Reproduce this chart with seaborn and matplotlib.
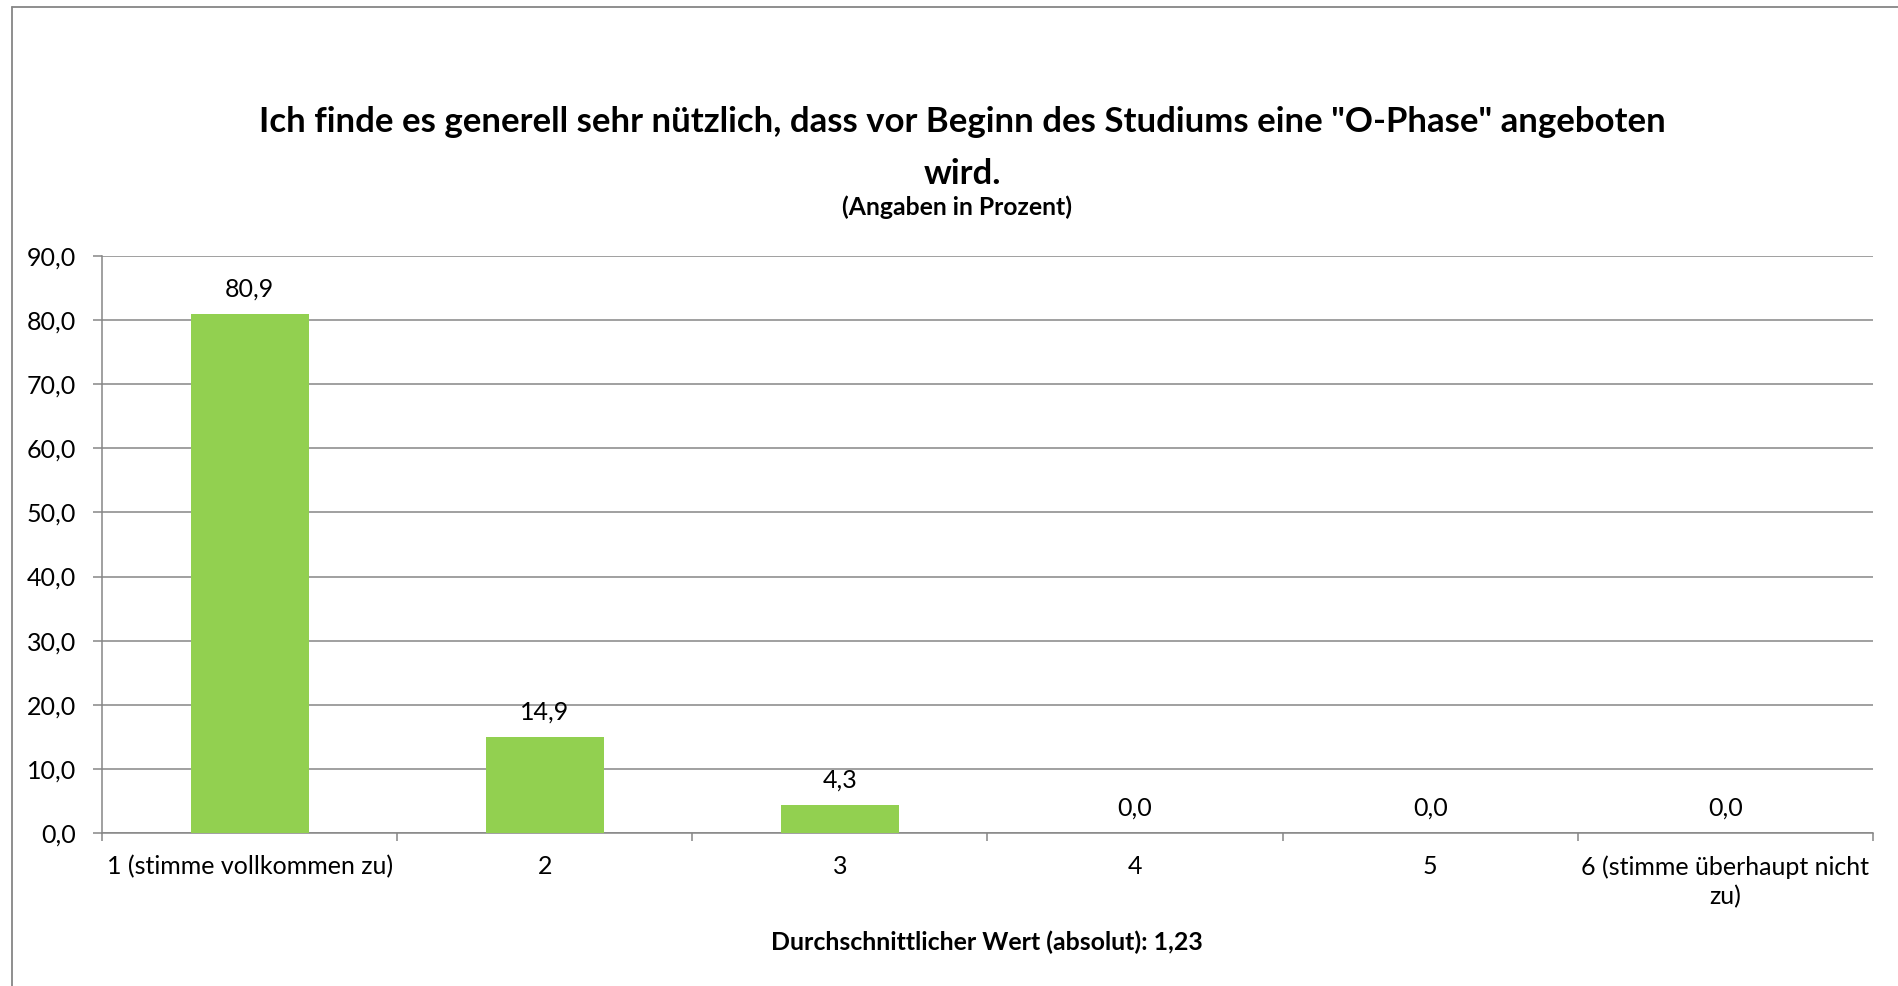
import matplotlib
matplotlib.use("Agg")
import matplotlib.pyplot as plt
import seaborn as sns
import pandas as pd
from matplotlib.ticker import FixedLocator, FuncFormatter, MultipleLocator
from matplotlib.lines import Line2D

categories = ["1 (stimme vollkommen zu)", "2", "3", "4", "5", "6 (stimme überhaupt nicht\nzu)"]
values = [80.9, 14.9, 4.3, 0.0, 0.0, 0.0]
title_text = 'Ich finde es generell sehr nützlich, dass vor Beginn des Studiums eine "O-Phase" angeboten\nwird.'
subtitle_text = "(Angaben in Prozent)"
xlabel_text = "Durchschnittlicher Wert (absolut): 1,23"

sns.set_style("white")
plt.rcParams["font.family"] = ["Lato", "DejaVu Sans"]
plt.rcParams["text.color"] = "black"
plt.rcParams["xtick.color"] = "black"
plt.rcParams["ytick.color"] = "black"

W, H, DPI = 1899, 986, 100
fig = plt.figure(figsize=(W / DPI, H / DPI), dpi=DPI)
fig.patch.set_facecolor("white")

# axes in pixel geometry
L, R, T, B = 102, 1873, 256, 833
ax = fig.add_axes([L / W, (H - B) / H, (R - L) / W, (B - T) / H])

df = pd.DataFrame({"cat": categories, "val": values})
sns.barplot(data=df, x="cat", y="val", color="#92D050", width=0.4, ax=ax,
            saturation=1, edgecolor="none", zorder=3)

grid_c = "#868686"
ax.set_ylim(0, 90)
ax.set_xlim(-0.5, len(categories) - 0.5)
ax.yaxis.set_major_locator(MultipleLocator(10))
ax.yaxis.set_major_formatter(FuncFormatter(lambda v, p: f"{v:.1f}".replace(".", ",")))
ax.grid(axis="y", color=grid_c, linewidth=1.1, zorder=0)
ax.set_axisbelow(True)
for s in ["top", "right"]:
    ax.spines[s].set_visible(False)
for s in ["left", "bottom"]:
    ax.spines[s].set_color(grid_c)
    ax.spines[s].set_linewidth(1.1)

ax.tick_params(axis="y", which="major", length=6.5, width=1.1, color=grid_c,
               labelsize=18, pad=12, labelcolor="black", left=True)
ax.xaxis.set_minor_locator(FixedLocator([i - 0.5 for i in range(len(categories) + 1)]))
ax.tick_params(axis="x", which="minor", length=6, width=1.1, color=grid_c, bottom=True)
ax.tick_params(axis="x", which="major", length=0, labelsize=18, pad=16, labelcolor="black")
for lbl in ax.get_xticklabels():
    lbl.set_multialignment("center")
    lbl.set_linespacing(1.3)
ax.set_xlabel("")
ax.set_ylabel("")

ax.bar_label(ax.containers[0], labels=[f"{v:.1f}".replace(".", ",") for v in values],
             padding=10, fontsize=18, color="black")

title = fig.text(962 / W, 1 - 148 / H, title_text, ha="center", va="center",
                 fontsize=25, fontweight="bold", linespacing=1.75, color="black")
sub = fig.text(957 / W, 1 - 207 / H, subtitle_text, ha="center", va="center",
               fontsize=15, fontweight="bold", color="black")
xl = fig.text(987 / W, 1 - 942 / H, xlabel_text, ha="center", va="center",
              fontsize=17, fontweight="bold", color="black")

# fit font sizes to measured widths
renderer = fig.canvas.get_renderer()
def fit(t, target):
    for _ in range(3):
        w = t.get_window_extent(renderer=renderer).width
        t.set_fontsize(t.get_fontsize() * target / w)
fit(sub, 231)
fit(xl, 430)
tmp = fig.text(0, 0, title_text.split("\n")[0], fontsize=25, fontweight="bold")
fit(tmp, 1409)
title.set_fontsize(tmp.get_fontsize())
tmp.remove()

# border of chart area (left and top visible)
fig.add_artist(Line2D([12 / W, 12 / W], [0, 1 - 7 / H], transform=fig.transFigure,
                      color=grid_c, linewidth=1.3))
fig.add_artist(Line2D([12 / W, 1], [1 - 7 / H, 1 - 7 / H], transform=fig.transFigure,
                      color=grid_c, linewidth=1.3))

fig.savefig("out.png", dpi=DPI, facecolor="white")
